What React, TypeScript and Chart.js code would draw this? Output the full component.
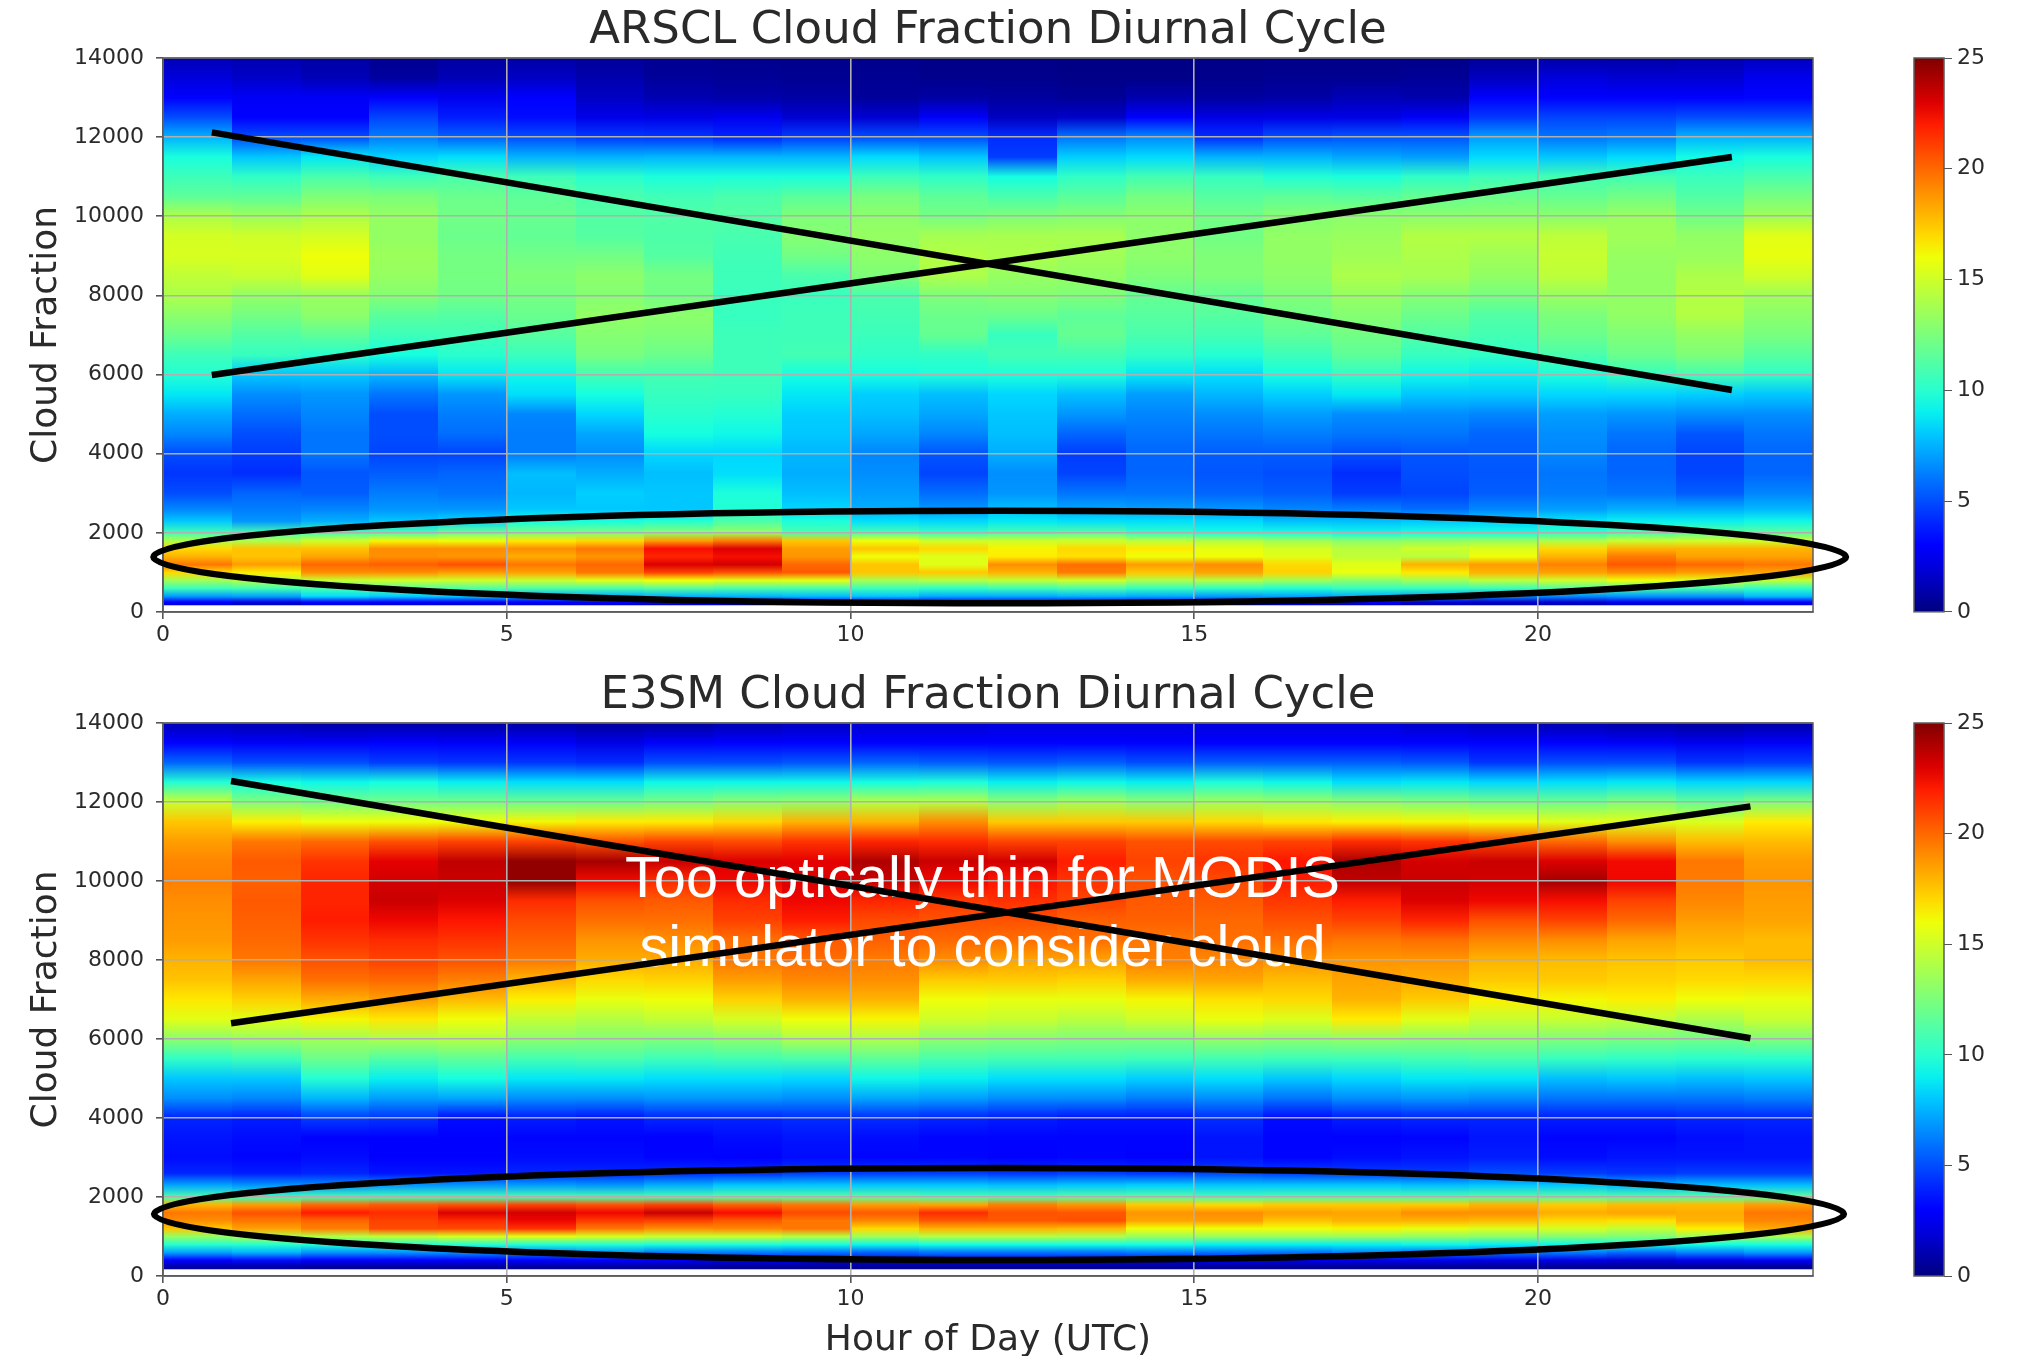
import React, { useEffect, useRef } from "react";
import { Chart, registerables } from "chart.js";

Chart.register(...registerables);

const heights = [14000,13500,13000,12500,12000,11500,11000,10500,10000,9500,9000,8500,8000,7500,7000,6500,6000,5500,5000,4500,4000,3500,3000,2600,2300,2000,1800,1600,1400,1200,1000,800,600,400,250];
const dataFloor = 170;

const arsclRows = [
[1.2,1.0,0.8,0.4,0.7,0.8,0.6,0.4,0.3,0.3,0.3,0.2,0.2,0.1,0.1,0.2,0.2,0.2,0.2,0.5,0.8,0.8,1.0,1.3],
[2.0,1.6,1.2,0.7,1.2,1.5,1.0,0.6,0.5,0.4,0.4,0.3,0.3,0.2,0.2,0.3,0.4,0.4,0.5,1.4,2.0,1.8,1.8,2.4],
[3.0,2.6,2.6,2.7,2.4,3.0,1.5,1.1,0.9,0.8,0.6,0.8,0.7,0.5,1.0,0.7,0.8,1.2,1.0,2.8,3.0,3.0,3.0,3.2],
[5.0,3.0,3.0,4.8,3.8,3.4,2.3,2.2,2.4,1.8,1.8,2.6,1.4,1.6,2.7,2.2,2.2,2.2,2.6,4.5,4.8,4.8,5.0,5.0],
[7.5,5.0,5.0,6.2,5.5,5.0,4.5,4.4,4.0,4.6,5.0,5.0,4.2,6.0,6.5,4.2,5.0,5.2,5.2,7.0,6.0,6.2,7.5,7.5],
[9.5,8.0,8.8,8.3,8.6,7.5,7.5,7.6,7.6,7.6,8.5,8.0,4.6,8.2,8.5,7.5,7.5,7.2,7.0,8.5,8.0,8.5,9.3,9.5],
[10.6,10.2,11,10.6,11,10.6,10,9.6,9.6,9.6,10.6,10.2,9.4,10.2,10.8,10.4,9.8,9.6,10.2,10.6,10.8,10.8,10.5,11],
[11.6,11.6,12.6,12.5,12,11.6,11,10.7,11,11.5,12.4,11.6,11,11.5,12.3,11.4,11.6,11.4,11.8,12,11.8,12.2,11.2,12.4],
[14,13.5,14,13.3,12.2,11.9,11.3,11.2,11.3,12.6,13,12.3,12.6,12.8,13,12.2,12.8,13,13,13,13,13.4,12.2,13.6],
[15.2,15,15.2,13.2,12,11.7,11.3,11.1,10.9,12.8,13.3,13.8,13.9,13.9,13,12.2,13.2,13.4,14.2,14.2,14.5,13.6,13.2,15.6],
[15.3,15.3,16,13.5,12.3,12.2,12.2,11.3,10.7,12.2,13,14.2,14,13.6,13,12.6,13.2,13.6,14,13.6,14.8,13.3,13.4,15.8],
[14.6,14.8,15.6,13.3,12.3,12.6,13,12.3,10.6,11,12.6,14,13.3,13.2,12.6,12.6,13,14,13.8,13.2,14.5,13.2,14,15],
[14,13.2,13.4,12.8,12.2,12.3,12.8,12.2,10.5,10.5,11,12.6,12.8,12.6,11.8,11.8,12.6,13.3,12.8,12.4,13.4,13.2,14.2,13.6],
[13,12.3,13,11.5,11.3,11.9,13.2,13,10.4,10.6,10.8,12,12,11.6,11.4,11.4,12.2,12.8,12,11.2,12.5,13.2,14.2,13],
[12,11.2,11.6,10.6,10.7,11.4,12.8,12.6,10.6,10.6,10.5,11.8,10.4,11.8,11,10.8,11.6,12.2,11.2,10.8,12,12.6,13.2,12.4],
[10.6,10.4,10,9.4,10,10.5,12.4,12,10.6,10.8,10.2,10.2,10.8,10.8,10.2,9.8,10.6,11.6,10.4,10.2,11,12,12.6,11.4],
[9.8,8,8,7.6,8.8,9.2,10.8,10.8,10.6,9.4,9.4,9.6,9.6,9.6,8.8,8.6,9.4,10.2,9.2,9,9.6,10.4,10.8,10.2],
[8.8,6.6,6.8,6,6.8,8.6,9.4,10.4,10.4,8.8,8.2,7.8,8.4,7.8,7,7.6,8.2,8.8,8,8,8.4,8.4,8.2,8],
[7.4,5.8,6.4,5,6.2,6.4,8.4,10,9.8,8.2,7.8,7.2,8,6.8,6.4,6.6,7,6.6,6.6,6.4,7,6.8,6.6,6.6],
[6.4,5,6,5,5.8,6.2,7.2,9.4,9.2,8,7.2,6.4,7.8,5.6,6,6,6.2,6,6,5.6,6.6,6,5.2,6],
[5,4.6,6,4.8,4.8,6.2,6.6,8.4,8.4,7.6,6.4,5.2,7.4,4.6,5.6,5.4,5.4,5,5.2,5.4,6.4,5.6,4.8,5.6],
[4.4,4.2,5.2,5.4,5.6,7.8,7.4,7.8,8.6,7.4,6.6,4.8,6.6,4.8,5.6,5.2,5,4.2,5,5.2,6,5.6,4.8,5.6],
[5,5.6,5.4,6.2,6,7.6,8.2,8,9.6,7.8,7,5.8,6.8,6,6,5.6,5.4,4.6,4.8,5.4,6.2,6,5.4,6.4],
[6.4,6.2,6.4,6.8,6.8,8,8,8,9.8,8.4,7.4,6.8,7.8,7.2,7,6.8,6.4,6.2,5.8,6.4,7,7.4,7.4,7.6],
[8,6.8,7.4,8,8.4,9.4,9.4,9.8,11,9.6,8.6,8.4,8.8,8.6,8.6,8.4,7.8,7.8,8,8.2,8.8,9,9,9.2],
[10.8,11,11,11,12,12.4,12.6,13,13.4,11,11,10.4,11,11.4,10.2,9.4,9.4,9.2,9.4,9.4,10.2,11,11.6,11.6],
[14,14,15,16.2,16,16.6,17,18.6,19.5,17.5,16,15,15,15,14.5,14.2,13.6,13,13.2,13.4,14,14.8,15,15],
[17,17.6,17.6,19,19,19,19.6,22.4,23,18.6,17.5,17,16.3,17,16.5,15.8,15.2,14.4,15,15.4,17,18,18,18],
[18,17.6,18.4,19,18.8,18.2,18.8,21.8,22.4,18.8,16,15.5,16.5,16.8,16,16,15.6,14.6,14.4,16,18,19.5,18.5,18.5],
[19.6,18.6,20,20.2,20.6,19.6,20,23,23.2,20,17.5,15.6,19,19.8,18.6,19,17,15.6,18,18.6,19.3,20.4,20,19.6],
[17,16.5,19,19,18.6,18.5,19.6,21,20.6,20.4,17.5,17.4,18,19.5,17.5,18.4,17.2,15.8,16.6,18,18.5,19,18.6,18.4],
[13.6,14.2,14.8,15,15,14.8,15.5,16,15.6,15.6,13.8,14.2,14.6,15,14,14.2,13.6,13,13.6,14.4,15,16,15.6,14.6],
[10.6,10.8,11,11.4,11.2,11.2,11,11.4,11,11,10.6,10.2,10.6,11,10.4,10.2,9.8,10.4,10.4,10.6,11.2,11,10.8,10.2],
[7,7.2,8.6,8.2,8.2,7.2,7.4,7.6,7.6,7.8,8,7.4,7.4,7.6,7.4,7,7.2,7.4,7.2,6.6,6.6,6.8,6.8,7.8],
[3,2.2,3.2,3,2.6,2.8,2.8,3,3.2,2.8,2.6,3,3,3,2.6,2.6,2.6,2.6,1.8,1.6,1.8,2.4,2.4,3],
];

const e3smRows = [
[1.2,1,0.8,0.8,0.8,0.8,0.6,0.6,1,1.4,1.8,1.8,2,2,2,2,2,2,1.6,1.3,1,0.8,0.6,0.8],
[2.8,2.6,2.6,2.8,2.6,2.6,2.2,2.6,2.8,3,3,3,3,3,3,3,3,3,3,2.8,2.8,2.6,2.4,2.6],
[5.6,5,5,4.6,4.4,4.4,4.2,5,5,5.2,5.6,5.4,5.2,5.4,5,5.4,5.4,5.4,5.2,4.4,5,5,4.4,4.6],
[9.8,9.4,9.2,9.4,9,8.6,8.6,9.2,9.2,9.2,9.4,9.6,9,9.2,9,9.6,9.2,8.6,8.8,8.4,8.6,8.8,8.4,8.4],
[14.8,12.6,12.2,12.2,12.2,12,12,12.4,13,13.2,14.2,14.2,13,13.6,13,13.6,13.4,13,12.6,12.2,12,12.6,11.8,12.6],
[17.5,16.4,16,16,16,16.2,16.5,16.5,17,18,18,19,17.4,17.4,17.4,17,16.6,16.4,16.2,16,15.6,15.5,15.4,16.5],
[18.6,19.6,20,20.6,21,21,20.6,21,20.8,21.4,21.8,21.6,21,21,20.6,20.8,21,21.6,21.4,21,20,19,17.8,17.8],
[19.2,20.4,21.4,22.8,23.6,24.6,24.2,23.4,23,22.8,24,23.4,23.2,22,21,21.4,22.2,24,23.2,23.4,23,22.5,19.6,18.6],
[19.4,20.2,21.8,23.2,23.4,24.6,22.5,21.6,22.6,23,23.4,22.6,22.2,21.4,20.6,20.8,22,23.6,23.4,23.2,24.2,22.6,19.5,18.8],
[19,20.4,21.8,23.4,23,21.6,20.6,20.4,21.6,22.6,21.8,21.2,21.5,21,20.4,20.4,21.3,22,23,22.6,22.4,21,19.2,18.6],
[18.8,20.2,22,22.6,22.2,20.8,19.8,19.8,21,22,20.8,20.6,20.6,20.2,20.2,20,20.6,21,21.8,20.6,21,20,18.6,18.4],
[18.6,20,21.4,21.6,21.4,20.2,18.8,19,19.8,20.4,20.2,20,19.8,19.8,19.6,19.8,19.8,19.6,19.8,19.2,19,18.4,18,17.8],
[18,19.6,20.6,21,20.6,19.6,18.2,18.2,19.6,19.8,19.5,19,18.4,18.5,19.4,19.2,18.8,18.8,18.8,18,17.8,17.6,17.4,17.8],
[17.6,18.4,19.8,20,19.4,18,17,17.2,18.6,19.2,19,17.4,17.4,17.2,18.2,18.4,17.8,18.4,18.2,17.4,17.4,17.2,17,17],
[16.6,17.2,18.2,18.6,17.8,16.4,15.8,16,17.2,18,18,16,15.8,15.8,16.2,16.8,17,18,17.4,16.4,16.2,16.4,16,15.8],
[15.6,15.6,16.2,16.6,16,14.6,14.2,14.6,15.2,16,16.2,15,14.8,14.4,15,15.8,15.4,16.5,15.6,14.8,14.8,14.6,14,14.8],
[13,13.4,13.6,14,14.2,13,12.8,12.6,13,14,14,13,12.8,12.6,12.6,13.2,13,13.2,13,13,12.6,12.4,12.2,12.6],
[10.2,10.6,12,11.2,11.6,10.8,11,10.6,10.8,11,11.6,11,10.8,10.8,10.6,10.8,10.6,10.6,10.8,11,10.4,10.2,10,10],
[8,8,9.8,9,9.4,8.8,8.8,8.6,8.6,8.4,9.2,9,8.6,8.6,8.2,8.6,8,8.4,8.8,8.8,7.8,8,7.8,8],
[6.6,6.4,7.6,7,7.2,6.6,6.6,6.8,6.8,6.6,7.2,7,6.6,6.6,6.2,6.6,6,6.6,6.8,6.6,6,6,6,6.2],
[4,3.8,4.6,4.4,3.4,3.8,3.6,4,4,4.2,4.2,4,3.8,3.6,3.6,4.2,3.4,3.8,4,4,3.8,3.8,4,4],
[3.6,3.4,2.8,2.8,2.8,3.2,3.2,3,3.4,3.6,3.4,3.2,3.2,3.2,3.2,3.6,3.2,2.9,3.2,3.6,3.2,3.2,3.4,3.6],
[3.4,3.2,3.4,3,2.9,3.4,3.4,3.2,3,3.4,3.2,3.2,3,3.2,2.9,3.6,3.2,3.4,3.6,3.8,3.4,3.6,3.6,3.6],
[4,3.8,4,3.6,3.6,4,4,4.2,4.2,4.6,4.6,4.6,4.4,4.6,4.4,4.8,4.6,4.6,4.6,5,4.6,4.4,4.6,4.6],
[7.2,6.8,6.6,6.8,6.8,7,6.8,7.4,8,8,8,8,7.8,8,8.2,8,8,8,7.8,8,8,7.6,7.8,7.8],
[11,10.4,10.8,10.8,10.8,11,11,11,11.4,11.4,11.4,11,11,11.4,11.4,10.8,11,11,11,11.4,11.4,11.2,11.4,11.8],
[18,18.6,20,20.4,20.6,21,20.6,21,20.2,19.6,18.6,18.4,19.4,18.8,17.4,17,17.4,17.4,17.4,18,17.4,17.8,17.8,18.6],
[19.6,20.6,22,21.6,23,23.2,22.6,23.4,22.4,20.8,20.4,21.6,20.6,20.5,18.8,19,18.6,18.4,19,19,18.2,18.4,18.2,19.6],
[19,19.6,20,21,21.6,22.6,21.2,21,20.4,19.6,19.2,20.4,20.4,20.6,18.4,18.6,17.6,18,18,17.8,17,16.8,18,19.2],
[17.5,18.5,19.4,20.8,20.8,21.4,19.6,19,19.2,19.6,17,18,18,17.8,16,16,16,16.2,15.8,15.4,15.2,14.6,16.4,18.2],
[13.2,14,14.2,14.6,15.2,15.6,15.2,14.8,14.8,14.2,13.6,14.2,14.2,14,13.4,13.4,13.4,13.4,13.2,13,12.8,12.6,13.4,13.8],
[10,10,9.8,9.8,10,9.8,9.8,9.6,9.6,9.4,9.2,9.4,9.4,9.4,9.4,9,9,9,9.2,9,9.2,9.4,9.4,9.4],
[7.2,7.6,6.8,6.8,6.8,6.4,6.8,6.2,6.2,6,5.6,6,6,6,6.2,6,6,6.4,6,6,6.2,5.8,6.4,7],
[3,3.4,3,3,3,2.8,3,2.6,2.4,2.4,2.2,2.4,2.6,2.6,2.6,2.6,2.4,2.4,2.4,2.2,2.2,2,2.4,2.6],
[1,1,0.8,0.8,0.8,0.8,0.8,0.8,0.6,0.6,0.6,0.6,0.6,0.6,0.6,0.6,0.6,0.6,0.6,0.6,0.6,0.6,0.6,0.6],
];

const arsclCrossA = [{ x: 0.71, y: 12120 }, { x: 22.82, y: 5610 }];
const arsclCrossB = [{ x: 0.71, y: 5990 }, { x: 22.82, y: 11500 }];
const e3smCrossA = [{ x: 0.99, y: 12530 }, { x: 23.09, y: 6020 }];
const e3smCrossB = [{ x: 0.99, y: 6400 }, { x: 23.09, y: 11890 }];
const arsclEllipse = { cx: 12.17, cy: 1390, rx: 12.31, ry: 1168 };
const e3smEllipse = { cx: 12.16, cy: 1568, rx: 12.29, ry: 1164 };
const noteLines = [
  { text: "Too optically thin for MODIS", x: 11.92, y: 9585 },
  { text: "simulator to consider cloud", x: 11.92, y: 7840 },
];
const colorbarMax = 25;

const SANS = '"DejaVu Sans"';
const TEXT = "#2a2a2a";
const FRAME = "#5c5c5c";
const SOFTEN = "blur(0.6px)";

function jet(v: number): string {
  const t = Math.max(0, Math.min(1, v / colorbarMax));
  const ramp = (pts: number[][]) => {
    for (let i = 1; i < pts.length; i++) {
      if (t <= pts[i][0]) {
        const [a, av] = pts[i - 1];
        const [b, bv] = pts[i];
        return av + ((t - a) / (b - a)) * (bv - av);
      }
    }
    return pts[pts.length - 1][1];
  };
  const r = ramp([[0, 0], [0.35, 0], [0.66, 1], [0.89, 1], [1, 0.5]]);
  const g = ramp([[0, 0], [0.125, 0], [0.375, 1], [0.64, 1], [0.91, 0], [1, 0]]);
  const b = ramp([[0, 0.5], [0.11, 1], [0.34, 1], [0.65, 0], [1, 0]]);
  return `rgb(${Math.round(r * 255)},${Math.round(g * 255)},${Math.round(b * 255)})`;
}

function heatPlugin(rows: number[][]) {
  return {
    id: "heat",
    beforeDraw(chart: any) {
      const { ctx, scales } = chart;
      const xs = scales.x;
      const ys = scales.y;
      const top = ys.getPixelForValue(heights[0]);
      const bottom = ys.getPixelForValue(dataFloor);
      ctx.save();
      for (let c = 0; c < rows[0].length; c++) {
        const x0 = Math.round(xs.getPixelForValue(c));
        const x1 = Math.round(xs.getPixelForValue(c + 1));
        const grad = ctx.createLinearGradient(0, top, 0, bottom);
        heights.forEach((h, r) => {
          const p = (ys.getPixelForValue(h) - top) / (bottom - top);
          grad.addColorStop(Math.min(1, p), jet(rows[r][c]));
        });
        grad.addColorStop(1, jet(rows[rows.length - 1][c] * 0.6));
        ctx.fillStyle = grad;
        ctx.fillRect(x0, top, x1 - x0, bottom - top);
      }
      ctx.restore();
    },
  };
}

function framePlugin(note: typeof noteLines) {
  return {
    id: "frameNote",
    beforeDatasetsDraw(chart: any) {
      const { ctx, chartArea: a, scales } = chart;
      ctx.save();
      ctx.strokeStyle = FRAME;
      ctx.lineWidth = 1.5;
      ctx.strokeRect(a.left, a.top, a.right - a.left, a.bottom - a.top);
      ctx.fillStyle = "#fff";
      ctx.font = '57.7px "Liberation Sans"';
      ctx.textAlign = "center";
      ctx.textBaseline = "alphabetic";
      note.forEach((n) => {
        ctx.fillText(n.text, scales.x.getPixelForValue(n.x), scales.y.getPixelForValue(n.y));
      });
      ctx.restore();
    },
  };
}

function ellipsePlugin(e: typeof arsclEllipse) {
  return {
    id: "ring",
    afterDatasetsDraw(chart: any) {
      const { ctx, scales } = chart;
      const cx = scales.x.getPixelForValue(e.cx);
      const cy = scales.y.getPixelForValue(e.cy);
      const rx = Math.abs(scales.x.getPixelForValue(e.cx + e.rx) - cx);
      const ry = Math.abs(scales.y.getPixelForValue(e.cy + e.ry) - cy);
      ctx.save();
      ctx.strokeStyle = "#000";
      ctx.lineWidth = 6.5;
      ctx.beginPath();
      ctx.ellipse(cx, cy, rx, ry, 0, 0, Math.PI * 2);
      ctx.stroke();
      ctx.restore();
    },
  };
}

function HeatPanel(props: any) {
  const { top, height, axisHeight, title, rows, crossA, crossB, ring, note, xTitle } = props;
  const ref = useRef<HTMLCanvasElement>(null);
  useEffect(() => {
    const line = (data: any) => ({
      data,
      showLine: true,
      borderColor: "#000",
      borderWidth: 6.5,
      pointRadius: 0,
      borderCapStyle: "butt",
      clip: false,
    });
    const chart = new Chart(ref.current as HTMLCanvasElement, {
      type: "scatter",
      data: { datasets: [line(crossA), line(crossB)] as any },
      plugins: [heatPlugin(rows), framePlugin(note), ellipsePlugin(ring)] as any,
      options: {
        animation: false,
        responsive: false,
        layout: { padding: { left: 0, right: 204, top: 0, bottom: 0 } },
        plugins: {
          legend: { display: false },
          tooltip: { enabled: false },
          title: {
            display: true,
            fullSize: false,
            text: title,
            color: TEXT,
            font: { family: SANS, size: 45, weight: "normal", lineHeight: 1.2 },
            padding: { top: 4, bottom: 0 },
          },
        },
        scales: {
          x: {
            type: "linear",
            min: 0,
            max: 24,
            afterFit: (s: any) => { s.height = axisHeight; },
            ticks: { stepSize: 5, includeBounds: false, color: TEXT, maxRotation: 0, padding: 3, font: { family: SANS, size: 22 } },
            grid: { color: "#b0b0b0", lineWidth: 1.6, tickColor: "#555", tickLength: 7 },
            border: { color: FRAME, width: 1.5 },
            title: xTitle
              ? { display: true, text: xTitle, color: TEXT, font: { family: SANS, size: 36, lineHeight: 1.2 }, padding: { top: 0, bottom: 0 } }
              : { display: false },
          },
          y: {
            type: "linear",
            min: 0,
            max: 14000,
            afterFit: (s: any) => { s.width = 163; },
            ticks: { stepSize: 2000, color: TEXT, padding: 12, font: { family: SANS, size: 22 }, callback: (v: any) => String(v) },
            grid: { color: "#b0b0b0", lineWidth: 1.6, tickColor: "#555", tickLength: 7 },
            border: { color: FRAME, width: 1.5 },
            title: { display: true, text: "Cloud Fraction", color: TEXT, font: { family: SANS, size: 36, lineHeight: 1.2 }, padding: { top: 25, bottom: 0 } },
          },
        },
      } as any,
    });
    return () => chart.destroy();
  }, []);
  return <canvas ref={ref} width={2017} height={height} style={{ position: "absolute", left: 0, top, display: "block", filter: SOFTEN }} />;
}

function ColorBar(props: any) {
  const { top, height, padTop, padBottom } = props;
  const ref = useRef<HTMLCanvasElement>(null);
  useEffect(() => {
    const bar = {
      id: "bar",
      beforeDraw(chart: any) {
        const { ctx, chartArea: a, scales } = chart;
        const ys = scales.y;
        const t = ys.getPixelForValue(colorbarMax);
        const b = ys.getPixelForValue(0);
        const grad = ctx.createLinearGradient(0, b, 0, t);
        for (let v = 0; v <= colorbarMax; v++) grad.addColorStop(v / colorbarMax, jet(v));
        ctx.save();
        ctx.fillStyle = grad;
        ctx.fillRect(a.left, t, a.right - a.left, b - t);
        ctx.restore();
      },
      afterDraw(chart: any) {
        const { ctx, chartArea: a } = chart;
        ctx.save();
        ctx.strokeStyle = FRAME;
        ctx.lineWidth = 1.5;
        ctx.strokeRect(a.left, a.top, a.right - a.left, a.bottom - a.top);
        ctx.restore();
      },
    };
    const chart = new Chart(ref.current as HTMLCanvasElement, {
      type: "scatter",
      data: { datasets: [{ data: [] }] },
      plugins: [bar] as any,
      options: {
        animation: false,
        responsive: false,
        layout: { padding: { left: 44, right: 0, top: padTop, bottom: padBottom } },
        plugins: { legend: { display: false }, tooltip: { enabled: false } },
        scales: {
          x: { display: false, min: 0, max: 1 },
          y: {
            position: "right",
            min: 0,
            max: colorbarMax,
            afterFit: (s: any) => { s.width = 73; },
            ticks: { stepSize: 5, color: TEXT, padding: 5, font: { family: SANS, size: 22 } },
            grid: { drawOnChartArea: false, tickColor: "#555", tickLength: 8 },
            border: { display: false },
          },
        },
      } as any,
    });
    return () => chart.destroy();
  }, []);
  return <canvas ref={ref} width={147} height={height} style={{ position: "absolute", left: 1870, top, display: "block", filter: SOFTEN }} />;
}

export default function App() {
  return (
    <div style={{ position: "absolute", left: 0, top: 0, width: 2017, height: 1356, background: "#fff", overflow: "hidden" }}>
      <HeatPanel top={0} height={662} axisHeight={50} title="ARSCL Cloud Fraction Diurnal Cycle" rows={arsclRows} crossA={arsclCrossA} crossB={arsclCrossB} ring={arsclEllipse} note={[]} />
      <HeatPanel top={665} height={697} axisHeight={86} title="E3SM Cloud Fraction Diurnal Cycle" rows={e3smRows} crossA={e3smCrossA} crossB={e3smCrossB} ring={e3smEllipse} note={noteLines} xTitle="Hour of Day (UTC)" />
      <ColorBar top={30} height={600} padTop={28} padBottom={18} />
      <ColorBar top={695} height={600} padTop={28} padBottom={19} />
    </div>
  );
}
